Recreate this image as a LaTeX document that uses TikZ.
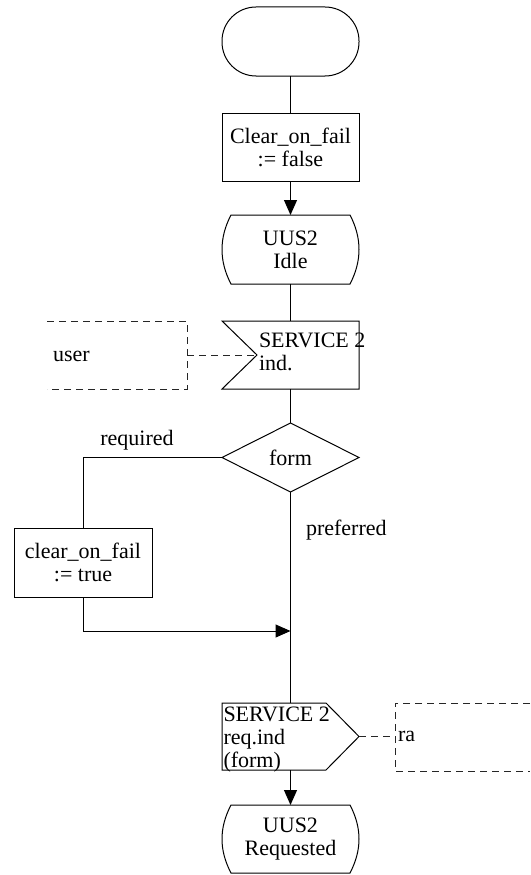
\documentclass[tikz,border=0pt]{standalone}
\usepackage{fontspec}
\setmainfont{Liberation Serif}
\usetikzlibrary{arrows.meta,shapes.geometric,calc}

\begin{document}
\begin{tikzpicture}[x=1pt,y=-1pt,
  font=\fontsize{22}{23}\selectfont,
  line width=1pt,
  every node/.style={inner sep=0pt, outer sep=0pt},
  proc/.style={draw, minimum width=137pt, minimum height=68pt, align=center},
  term/.style={draw, rounded corners=34pt, minimum width=137pt, minimum height=69pt},
  statebox/.style={minimum width=137pt, minimum height=69pt, align=center},
  decision/.style={draw, diamond, minimum width=137pt, minimum height=69pt},
  arr/.style={-{Triangle[length=15pt,width=13pt]}},
  note/.style={dash pattern=on 7pt off 5pt, draw=black!85}
]
\useasboundingbox (0,0) rectangle (530,875);

% start symbol and initial task
\node[term] (start) at (290.5,41.5) {};
\node[proc] (init) at (290.5,147) {Clear\_on\_fail\\:= false};

% state UUS2 Idle
\node[statebox] (idle) at (290.5,249.5) {UUS2\\Idle};
\draw ($(idle.north west)+(9,0)$) -- ($(idle.north east)+(-9,0)$)
  .. controls +(12,23) and +(12,-23) .. ($(idle.south east)+(-9,0)$)
  -- ($(idle.south west)+(9,0)$)
  .. controls +(-12,-23) and +(-12,23) .. cycle;

% input signal SERVICE 2 ind.
\node[minimum width=137pt, minimum height=68pt] (svcind) at (290.5,355) {};
\draw (svcind.north west) -- (svcind.north east) -- (svcind.south east)
  -- (svcind.south west) -- ($(svcind.west)+(35,0)$) -- cycle;
\coordinate (svcinport) at ($(svcind.west)+(35,0)$);
\node[anchor=west, align=left] (svcindtext) at ($(svcind.west)+(37,-3)$) {SERVICE 2\\ind.};

% environment note: user
\node[anchor=west] (user) at (53,356) {user};
\coordinate (userport) at (187,355);
\draw[note] (47,321) -- (187,321) -- (187,389) -- (47,389);
\draw[note] (userport) -- (svcinport);

% decision on form
\node[decision] (form) at (290.5,457.5) {form};
\node (required) at (137,440) {required};
\node[anchor=west] (preferred) at (306,530) {preferred};

% task on the required branch
\node[proc, minimum width=138pt, minimum height=69pt] (clrtrue) at (83,562.5) {clear\_on\_fail\\:= true};
\coordinate (merge) at (290.5,631);

% output signal SERVICE 2 req.ind
\node[minimum width=137pt, minimum height=67pt] (svcreq) at (290.5,736.5) {};
\draw (svcreq.north west) -- ($(svcreq.north east)+(-33,0)$) -- (svcreq.east)
  -- ($(svcreq.south east)+(-33,0)$) -- (svcreq.south west) -- cycle;
\node[anchor=west, align=left] (svcreqtext) at ($(svcreq.west)+(1.5,3.5)$) {SERVICE 2\\req.ind\\(form)};

% environment note: ra
\coordinate (raport) at (395,736.5);
\draw[note] (530,703) -- (395,703) -- (395,771) -- (530,771);
\draw[note] (svcreq.east) -- (raport);
\node[anchor=west] (ra) at (398,736) {ra};

% state UUS2 Requested
\node[statebox, minimum height=68pt] (req) at (290.5,839) {UUS2\\Requested};
\draw ($(req.north west)+(9,0)$) -- ($(req.north east)+(-9,0)$)
  .. controls +(12,23) and +(12,-23) .. ($(req.south east)+(-9,0)$)
  -- ($(req.south west)+(9,0)$)
  .. controls +(-12,-23) and +(-12,23) .. cycle;

% flow lines
\draw (start) -- (init);
\draw[arr] (init) -- (idle);
\draw (idle) -- (svcind);
\draw (svcind) -- (form);
\draw (form.west) -| (clrtrue.north);
\draw[arr] (clrtrue.south) |- (merge);
\draw (form.south) -- (svcreq.north);
\draw[arr] (svcreq.south) -- (req.north);
\end{tikzpicture}
\end{document}
